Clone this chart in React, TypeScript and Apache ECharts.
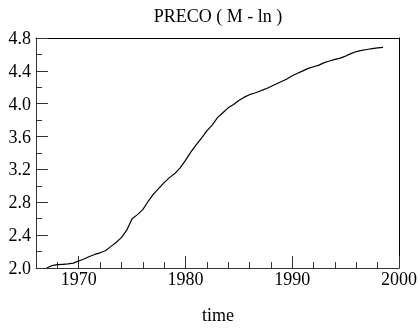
import React, { useEffect, useRef } from "react";
import * as echarts from "echarts";

const years: number[] = [
  1967.0, 1967.5, 1968.0, 1968.5, 1969.0, 1969.5, 1970.0, 1970.5, 1971.0, 1971.5,
  1972.0, 1972.5, 1973.0, 1973.5, 1974.0, 1974.5, 1975.0, 1975.5, 1976.0, 1976.5,
  1977.0, 1977.5, 1978.0, 1978.5, 1979.0, 1979.5, 1980.0, 1980.5, 1981.0, 1981.5,
  1982.0, 1982.5, 1983.0, 1983.5, 1984.0, 1984.5, 1985.0, 1985.5, 1986.0, 1986.5,
  1987.0, 1987.5, 1988.0, 1988.5, 1989.0, 1989.5, 1990.0, 1990.5, 1991.0, 1991.5,
  1992.0, 1992.5, 1993.0, 1993.5, 1994.0, 1994.5, 1995.0, 1995.5, 1996.0, 1996.5,
  1997.0, 1997.5, 1998.0, 1998.5,
];

const preco: number[] = [
  2.0, 2.03, 2.04, 2.045, 2.05, 2.06, 2.085, 2.11, 2.14, 2.165,
  2.185, 2.21, 2.26, 2.31, 2.37, 2.46, 2.6, 2.65, 2.71, 2.81,
  2.9, 2.97, 3.04, 3.1, 3.15, 3.22, 3.31, 3.41, 3.5, 3.58,
  3.67, 3.74, 3.83, 3.89, 3.95, 3.99, 4.04, 4.08, 4.11, 4.13,
  4.155, 4.18, 4.21, 4.24, 4.27, 4.3, 4.34, 4.37, 4.4, 4.43,
  4.45, 4.47, 4.5, 4.52, 4.54, 4.555, 4.58, 4.61, 4.635, 4.65,
  4.66, 4.67, 4.68, 4.685,
];

const majorYears: number[] = [1970, 1980, 1990, 2000];

const titleText = "PRECO ( M - ln )";
const xName = "time";

const FONT = "Liberation Serif";
const AXIS_COLOR = "#333";

export default function App() {
  const ref = useRef<HTMLDivElement>(null);
  useEffect(() => {
    if (!ref.current) return;
    const chart = echarts.init(ref.current, undefined, { renderer: "svg" });
    const data = years.map((y, i) => [y, preco[i]]);
    chart.setOption({
      animation: false,
      grid: { left: 36, right: 19, top: 38, bottom: 60 },
      graphic: [
        {
          type: "text",
          x: 218,
          y: 15.5,
          style: {
            text: titleText,
            fontFamily: FONT,
            fontSize: 18,
            fill: "#000",
            align: "center",
            verticalAlign: "middle",
          },
        },
        {
          type: "text",
          x: 218,
          y: 315,
          style: {
            text: xName,
            fontFamily: FONT,
            fontSize: 18,
            fill: "#000",
            align: "center",
            verticalAlign: "middle",
          },
        },
      ],
      xAxis: [
        {
          type: "value",
          min: 1966,
          max: 2000,
          axisLine: { show: true, lineStyle: { color: AXIS_COLOR } },
          axisTick: {
            show: true,
            inside: true,
            length: 12,
            customValues: majorYears,
            lineStyle: { color: AXIS_COLOR },
          },
          axisLabel: {
            customValues: majorYears,
            fontFamily: FONT,
            fontSize: 18,
            color: "#000",
            margin: 2,
            formatter: (v: number) => String(v),
          },
          splitLine: { show: false },
        },
        {
          type: "value",
          min: 1966,
          max: 2000,
          interval: 2,
          position: "bottom",
          axisLine: { show: false },
          axisTick: { show: true, inside: true, length: 6, lineStyle: { color: AXIS_COLOR } },
          axisLabel: { show: false },
          splitLine: { show: false },
        },
        {
          type: "value",
          min: 1966,
          max: 2000,
          position: "top",
          axisLine: { show: true, lineStyle: { color: "#000" } },
          axisTick: { show: false },
          axisLabel: { show: false },
          splitLine: { show: false },
        },
      ],
      yAxis: [
        {
          type: "value",
          min: 2.0,
          max: 4.8,
          interval: 0.4,
          axisLine: { show: true, lineStyle: { color: AXIS_COLOR } },
          axisTick: { show: true, inside: true, length: 12, lineStyle: { color: AXIS_COLOR } },
          minorTick: { show: true, splitNumber: 2, length: 6, lineStyle: { color: AXIS_COLOR } },
          axisLabel: {
            fontFamily: FONT,
            fontSize: 18,
            color: "#000",
            margin: 5,
            formatter: (v: number) => v.toFixed(1),
          },
          splitLine: { show: false },
        },
        {
          type: "value",
          min: 2.0,
          max: 4.8,
          interval: 0.4,
          position: "right",
          axisLine: { show: true, lineStyle: { color: "#000" } },
          axisTick: { show: false },
          axisLabel: { show: false },
          splitLine: { show: false },
        },
      ],
      series: [
        {
          type: "line",
          xAxisIndex: 0,
          yAxisIndex: 0,
          data,
          showSymbol: false,
          lineStyle: { color: "#000", width: 1.2 },
        },
      ],
    });
    return () => chart.dispose();
  }, []);
  return (
    <div
      ref={ref}
      style={{ position: "fixed", left: 0, top: 0, width: 420, height: 328 }}
    />
  );
}
